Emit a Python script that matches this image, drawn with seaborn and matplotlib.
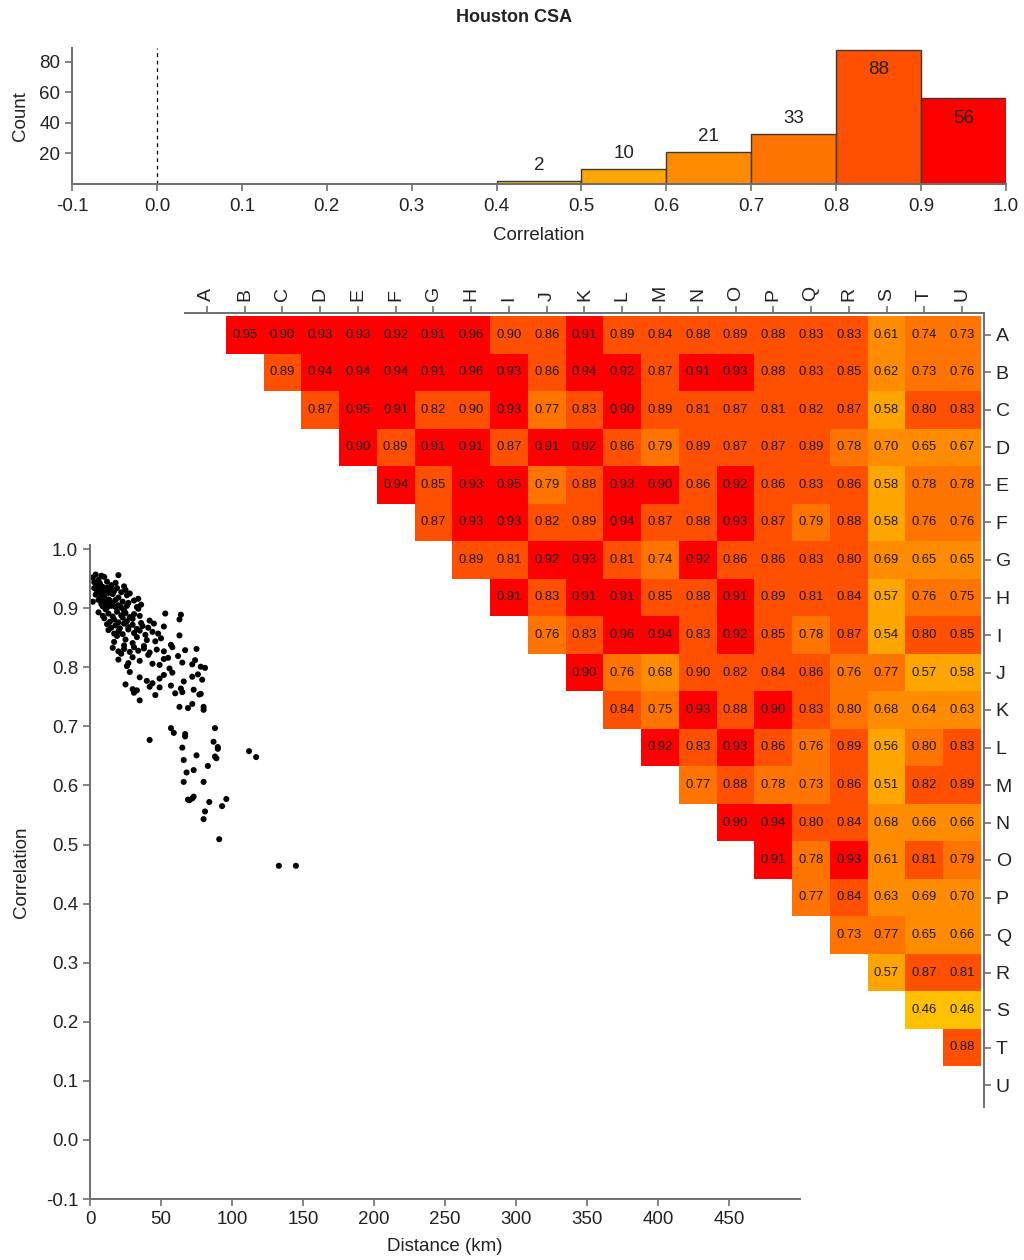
import matplotlib
matplotlib.use("Agg")
import matplotlib.pyplot as plt
from matplotlib.colors import ListedColormap
import numpy as np
import pandas as pd
import seaborn as sns

LABELS = list("ABCDEFGHIJKLMNOPQRSTU")

# upper triangle of the correlation matrix, one list per row (columns after the diagonal)
# 0.903 / 0.803: cells printed as 0.90 / 0.80 whose colour puts them in the upper bin
CORR_ROWS = [
    [0.95, 0.903, 0.93, 0.93, 0.92, 0.91, 0.96, 0.90, 0.86, 0.91, 0.89, 0.84, 0.88, 0.89, 0.88, 0.83, 0.83, 0.61, 0.74, 0.73],
    [0.89, 0.94, 0.94, 0.94, 0.91, 0.96, 0.93, 0.86, 0.94, 0.92, 0.87, 0.91, 0.93, 0.88, 0.83, 0.85, 0.62, 0.73, 0.76],
    [0.87, 0.95, 0.91, 0.82, 0.90, 0.93, 0.77, 0.83, 0.903, 0.89, 0.81, 0.87, 0.81, 0.82, 0.87, 0.58, 0.803, 0.83],
    [0.903, 0.89, 0.91, 0.91, 0.87, 0.91, 0.92, 0.86, 0.79, 0.89, 0.87, 0.87, 0.89, 0.78, 0.70, 0.65, 0.67],
    [0.94, 0.85, 0.93, 0.95, 0.79, 0.88, 0.93, 0.903, 0.86, 0.92, 0.86, 0.83, 0.86, 0.58, 0.78, 0.78],
    [0.87, 0.93, 0.93, 0.82, 0.89, 0.94, 0.87, 0.88, 0.93, 0.87, 0.79, 0.88, 0.58, 0.76, 0.76],
    [0.89, 0.81, 0.92, 0.93, 0.81, 0.74, 0.92, 0.86, 0.86, 0.83, 0.803, 0.69, 0.65, 0.65],
    [0.91, 0.83, 0.91, 0.91, 0.85, 0.88, 0.91, 0.89, 0.81, 0.84, 0.57, 0.76, 0.75],
    [0.76, 0.83, 0.96, 0.94, 0.83, 0.92, 0.85, 0.78, 0.87, 0.54, 0.803, 0.85],
    [0.903, 0.76, 0.68, 0.90, 0.82, 0.84, 0.86, 0.76, 0.77, 0.57, 0.58],
    [0.84, 0.75, 0.93, 0.88, 0.903, 0.83, 0.80, 0.68, 0.64, 0.63],
    [0.92, 0.83, 0.93, 0.86, 0.76, 0.89, 0.56, 0.80, 0.83],
    [0.77, 0.88, 0.78, 0.73, 0.86, 0.51, 0.82, 0.89],
    [0.903, 0.94, 0.803, 0.84, 0.68, 0.66, 0.66],
    [0.91, 0.78, 0.93, 0.61, 0.81, 0.79],
    [0.77, 0.84, 0.63, 0.69, 0.70],
    [0.73, 0.77, 0.65, 0.66],
    [0.57, 0.87, 0.81],
    [0.46, 0.46],
    [0.88],
    [],
]

BIN_EDGES = [0.4, 0.5, 0.6, 0.7, 0.8, 0.9, 1.0]
BIN_COLORS = ["#FFC000", "#FFA500", "#FF8C00", "#FF7300", "#FF4F00", "#FF0000"]

# scatter points: distance (km) and correlation
SCATTER_KM = [
    4, 8, 20,
    2, 6, 10,
    3, 5, 7, 9, 12, 15, 18, 24,
    3, 5, 6, 8, 9, 10, 12, 13, 15, 17, 19, 22, 25, 28,
    4, 7, 10, 13, 16, 20, 26, 34,
    2, 6, 8, 10, 12, 14, 16, 18, 20, 23, 27, 31, 36,
    9, 12, 15, 18, 22, 26, 33,
    11, 24, 34,
    6, 9, 13, 16, 19, 22, 25, 28, 31, 35, 53, 64,
    10, 14, 17, 20, 23, 26, 30, 36, 42, 63,
    12, 15, 18, 21, 24, 27, 30, 33, 37, 41, 45, 52,
    13, 17, 20, 23, 27, 31, 35, 39, 44, 48, 63,
    19, 25, 33, 40, 50,
    17, 24, 30, 38, 46, 57,
    16, 20, 24, 28, 31, 34, 38, 42, 47, 52, 58, 67, 75,
    22, 30, 41, 55, 62,
    20, 27, 35, 44, 52, 65, 74,
    26, 49, 72, 78,
    56, 81,
    28, 52, 58, 76,
    35, 40, 49, 66, 72, 79,
    25, 42, 44, 49, 57,
    30, 31, 33, 60, 64, 65, 73, 78,
    46, 77,
    35, 72,
    63, 69, 80, 80,
    57, 88,
    59, 67,
    42, 67, 87,
    90,
    65, 90, 112,
    75, 88, 89, 117,
    66,
    73, 83,
    68,
    66, 80,
    70, 72, 73, 96,
    69, 84, 93,
    81,
    80,
    91,
    133, 145,
]
SCATTER_CORR = [
    0.957, 0.955, 0.956,
    0.952, 0.948, 0.953,
    0.944, 0.938, 0.942, 0.936, 0.945, 0.939, 0.943, 0.937,
    0.934, 0.927, 0.931, 0.925, 0.933, 0.928, 0.935, 0.926, 0.932, 0.929, 0.934, 0.927, 0.931, 0.925,
    0.923, 0.917, 0.921, 0.915, 0.924, 0.918, 0.922, 0.916,
    0.911, 0.914, 0.907, 0.912, 0.906, 0.913, 0.908, 0.914, 0.905, 0.911, 0.909, 0.913, 0.906,
    0.903, 0.901, 0.904, 0.902, 0.901, 0.904, 0.902,
    0.898, 0.896, 0.899,
    0.893, 0.887, 0.891, 0.886, 0.894, 0.888, 0.892, 0.885, 0.890, 0.887, 0.891, 0.889,
    0.883, 0.877, 0.881, 0.876, 0.884, 0.878, 0.882, 0.875, 0.879, 0.881,
    0.873, 0.867, 0.871, 0.866, 0.874, 0.868, 0.872, 0.865, 0.870, 0.867, 0.874, 0.869,
    0.863, 0.857, 0.861, 0.856, 0.864, 0.858, 0.862, 0.855, 0.860, 0.857, 0.854,
    0.853, 0.847, 0.851, 0.846, 0.849,
    0.843, 0.837, 0.841, 0.836, 0.844, 0.838,
    0.833, 0.827, 0.831, 0.826, 0.834, 0.828, 0.832, 0.825, 0.830, 0.827, 0.834, 0.829, 0.831,
    0.823, 0.817, 0.821, 0.816, 0.819,
    0.813, 0.807, 0.811, 0.806, 0.814, 0.808, 0.812,
    0.802, 0.804, 0.805, 0.801,
    0.798, 0.799,
    0.792, 0.787, 0.791, 0.788,
    0.783, 0.777, 0.781, 0.776, 0.784, 0.779,
    0.771, 0.767, 0.773, 0.766, 0.769,
    0.763, 0.757, 0.761, 0.756, 0.764, 0.758, 0.762, 0.755,
    0.753, 0.754,
    0.744, 0.738,
    0.733, 0.731, 0.733, 0.728,
    0.697, 0.697,
    0.689, 0.687,
    0.677, 0.683, 0.674,
    0.665,
    0.664, 0.662, 0.658,
    0.651, 0.649, 0.646, 0.648,
    0.643,
    0.626, 0.633,
    0.622,
    0.606, 0.606,
    0.575, 0.578, 0.581, 0.577,
    0.576, 0.572, 0.565,
    0.556,
    0.543,
    0.509,
    0.464, 0.464,
]

sns.set_theme(style="ticks")
plt.rcParams["font.family"] = ["Liberation Sans", "DejaVu Sans"]
plt.rcParams["axes.unicode_minus"] = False

SPINE = "#6e6e6e"
TXT = "#222222"
tick_fs, label_fs = 13.5, 13.5

n = len(LABELS)
mat = np.full((n, n), np.nan)
for i, row in enumerate(CORR_ROWS):
    mat[i, i + 1:] = row
corr = pd.DataFrame(mat, index=LABELS, columns=LABELS)
pairs = corr.stack()
bin_idx = corr.apply(lambda c: pd.cut(c, BIN_EDGES, labels=False))
counts = pd.cut(pairs, BIN_EDGES, labels=False).value_counts().reindex(range(6), fill_value=0)

fig = plt.figure(figsize=(10.24, 12.6), dpi=100)
W, H = 1024, 1260


def axes_px(x0, y0, x1, y1):
    return fig.add_axes([x0 / W, 1 - y1 / H, (x1 - x0) / W, (y1 - y0) / H])


def style_spines(ax, which):
    for s in ["left", "right", "top", "bottom"]:
        ax.spines[s].set_visible(s in which)
        ax.spines[s].set_color(SPINE)
        ax.spines[s].set_linewidth(1.4)
    ax.tick_params(colors=SPINE, labelcolor=TXT, labelsize=tick_fs, length=5, width=1.2)


# ---- histogram ----
ax_h = axes_px(72, 48, 1006, 184)
ax_h.bar(BIN_EDGES[:-1], counts.values, width=0.1, align="edge",
         color=BIN_COLORS, edgecolor="#3a3a3a", linewidth=1.0)
ax_h.axvline(0.0, color="black", lw=0.9, ls=(0, (3, 3)))
for left, c in zip(BIN_EDGES[:-1], counts.values):
    if c > 50:
        ax_h.annotate(str(c), (left + 0.05, c), xytext=(0, -8), textcoords="offset points",
                      ha="center", va="top", fontsize=13.5, color=TXT)
    else:
        ax_h.annotate(str(c), (left + 0.05, c), xytext=(0, 5), textcoords="offset points",
                      ha="center", va="bottom", fontsize=13.5, color=TXT)
ax_h.set_xlim(-0.1, 1.0)
ax_h.set_ylim(0, 89)
xt = np.round(np.arange(-0.1, 1.01, 0.1), 1)
ax_h.set_xticks(xt)
ax_h.set_xticklabels([f"{v:.1f}" for v in xt])
ax_h.set_yticks([20, 40, 60, 80])
ax_h.set_xlabel("Correlation", fontsize=label_fs, color=TXT, labelpad=9)
ax_h.set_ylabel("Count", fontsize=label_fs, color=TXT, labelpad=7)
style_spines(ax_h, ["left", "bottom"])
ax_h.tick_params(axis="x", pad=5)
ax_h.set_facecolor("none")

fig.text(514 / W, 1 - 18 / H, "Houston CSA", ha="center", va="center",
         fontsize=13, fontweight="bold", color=TXT)

# ---- scatter ----
ax_s = axes_px(90, 545, 800, 1199)
sns.scatterplot(x=SCATTER_KM, y=SCATTER_CORR, ax=ax_s, color="black", s=19,
                edgecolor="none", linewidth=0)
ax_s.set_xlim(0, 500)
ax_s.set_ylim(-0.1, 1.007)
ax_s.set_xticks(range(0, 451, 50))
yt = np.round(np.arange(-0.1, 1.01, 0.1), 1)
ax_s.set_yticks(yt)
ax_s.set_yticklabels([f"{v:.1f}" for v in yt])
ax_s.set_xlabel("Distance (km)", fontsize=label_fs, color=TXT, labelpad=7)
ax_s.set_ylabel("Correlation", fontsize=label_fs, color=TXT, labelpad=11)
style_spines(ax_s, ["left", "bottom"])
ax_s.set_facecolor("none")

# ---- heatmap ----
cw, ch = 37.76, 37.5
pad = 0.08
ax_m = axes_px(188 - pad * cw, 316.25 - pad * ch, 188 + (21 + pad) * cw, 316.25 + (21 + pad) * ch)
sns.heatmap(bin_idx, ax=ax_m, mask=corr.isna(), cmap=ListedColormap(BIN_COLORS),
            vmin=-0.5, vmax=5.5, annot=corr, fmt=".2f", cbar=False,
            annot_kws={"size": 9.4, "color": "#1a1a1a"})
ax_m.set_xlim(-pad, n + pad)
ax_m.set_ylim(n + pad, -pad)
ax_m.xaxis.tick_top()
ax_m.yaxis.tick_right()
ax_m.set_xlabel("")
ax_m.set_ylabel("")
style_spines(ax_m, ["top", "right"])
ax_m.tick_params(top=True, right=True, bottom=False, left=False, labelsize=14)
plt.setp(ax_m.get_xticklabels(), rotation=90, va="bottom")
plt.setp(ax_m.get_yticklabels(), rotation=0, ha="left")
ax_m.set_facecolor("none")

fig.savefig("out.png", dpi=100, facecolor="white")
